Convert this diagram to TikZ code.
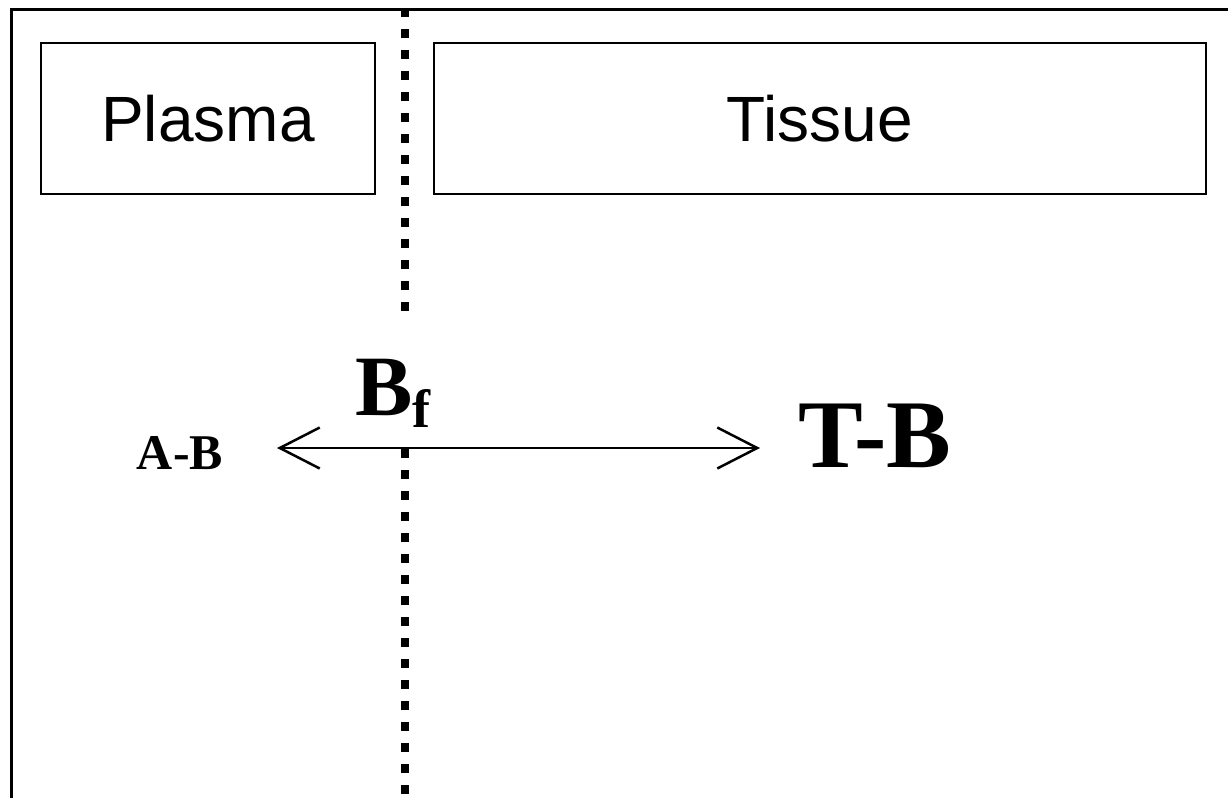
\documentclass[tikz,border=0pt]{standalone}
\usepackage{fontspec}
\setmainfont{Liberation Serif}
\newfontfamily\arialfont{Liberation Sans}
\usetikzlibrary{arrows.meta}
\tikzset{
  region/.style={draw, line width=2pt, inner sep=0pt, font=\arialfont\fontsize{64}{64}\selectfont},
  frameline/.style={line width=3pt},
  membrane/.style={line width=8.5pt, dash pattern=on 8.5pt off 12.5pt},
  flux/.style={line width=2.5pt, {Straight Barb[length=40pt,width=41pt,line width=2.5pt]}-{Straight Barb[length=40pt,width=41pt,line width=2.5pt]}},
  species/.style={font=\bfseries, inner sep=0pt, anchor=base}
}
\begin{document}
\begin{tikzpicture}[x=1pt,y=-1pt]
\useasboundingbox (0,0) rectangle (1228,798);
% frame (cropped: top and left only)
\coordinate (fbl) at (11.5,798);
\coordinate (ftl) at (11.5,9);
\coordinate (ftr) at (1228,9);
\draw[frameline] (fbl) -- (ftl) -- (ftr);
% compartments
\node[region, minimum width=334pt, minimum height=151pt] (plasma) at (208,118.5) {Plasma};
\node[region, minimum width=772pt, minimum height=151pt] (tissue) at (820,118.5) {Tissue};
% membrane (dotted)
\coordinate (m1) at (405,8);
\coordinate (m2) at (405,313);
\coordinate (m3) at (405,449);
\coordinate (m4) at (405,800);
\draw[membrane] (m1) -- (m2);
\draw[membrane] (m3) -- (m4);
% species
\node[species, font=\bfseries\fontsize{50}{50}\selectfont] (ab) at (180,469) {A-B};
\node[species, font=\bfseries\fontsize{97}{97}\selectfont] (tb) at (875,467) {T-B};
\node[species, anchor=base west, font=\bfseries\fontsize{86}{86}\selectfont] (bf) at (355,415) {B\raisebox{-12pt}{\fontsize{54}{54}\selectfont f}};
% exchange arrow
\coordinate (la) at (277,448);
\coordinate (ra) at (760,448);
\draw[flux] (la) -- (ra);
\end{tikzpicture}
\end{document}
